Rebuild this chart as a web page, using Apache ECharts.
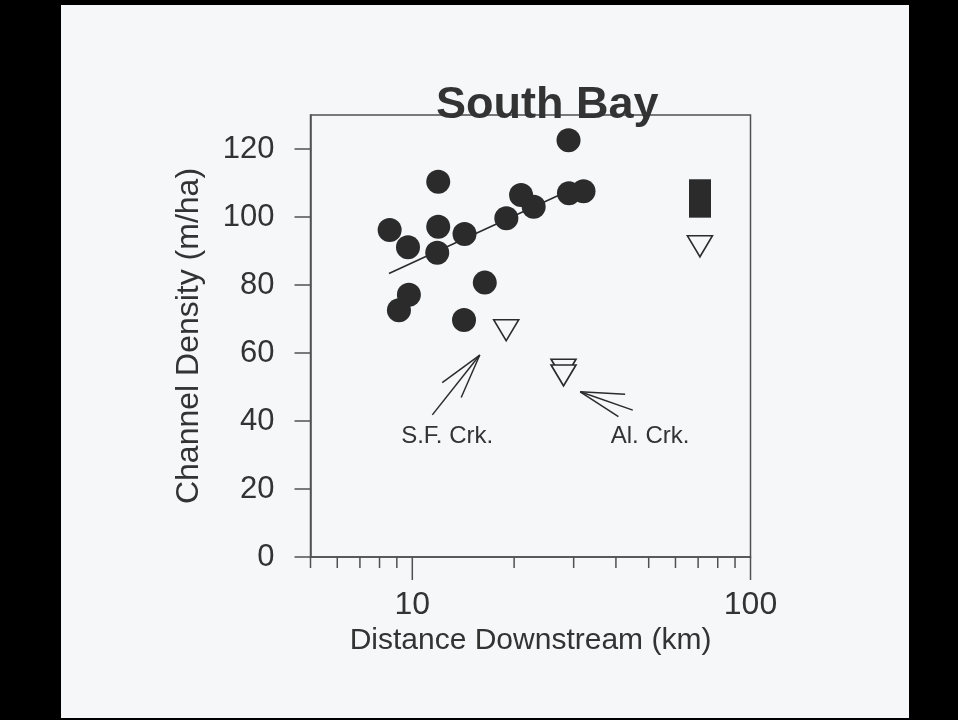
<!DOCTYPE html>
<html><head><meta charset="utf-8">
<script src="https://cdn.jsdelivr.net/npm/echarts@6/dist/echarts.min.js"></script>
<style>html,body{margin:0;padding:0;background:#000;width:958px;height:720px;overflow:hidden}
#c{position:absolute;left:61px;top:5px;width:848px;height:713px}</style></head>
<body><div id="c"></div>
<script>
const titleText = 'South Bay';
const xName = 'Distance Downstream (km)';
const yName = 'Channel Density (m/ha)';
const xMajorTicks = [10, 100];
const xMinorTicks = [5, 6, 7, 8, 9, 20, 30, 40, 50, 60, 70, 80, 90];
const yTicks = [0, 20, 40, 60, 80, 100, 120];

const channelDist    = [28.97, 11.93, 29.05, 32.08, 20.97, 22.85, 18.97, 8.57, 11.93, 14.27, 9.71, 11.85, 16.38, 9.77, 9.13, 14.22];
const channelDensity = [122.6, 110.4, 107.0, 107.6, 106.5, 103.0, 99.6, 96.2, 97.1, 95.0, 91.1, 89.5, 80.7, 77.1, 72.6, 69.7];

const openDist    = [18.95, 28.0, 28.0, 70.86];
const openDensity = [66.7, 55.1, 53.4, 91.4];

const rangeDist    = [70.9, 70.9];
const rangeDensity = [99.8, 111.1];

const fitDist    = [8.53, 30.3];
const fitDensity = [83.4, 108.6];

// arrow points: tip, shaft end, barb 1, barb 2
const sfArrowDist    = [15.83, 11.46, 12.26, 13.95];
const sfArrowDensity = [59.4, 41.8, 51.3, 46.9];
const alArrowDist    = [31.37, 44.87, 42.59, 40.69];
const alArrowDensity = [48.6, 43.2, 47.9, 41.3];

const annoText    = ['S.F. Crk.', 'Al. Crk.'];
const annoDist    = [12.68, 50.47];
const annoDensity = [35.6, 35.6];

const INK = '#2b2b2b';
const AXIS = '#505050';
const TEXT = '#333333';
const PAPER = '#f5f7f9';
const FONT = '"Liberation Sans", Arial, Helvetica, sans-serif';

function arrowSegs(xs, ys) {
  const segs = [];
  for (let i = 1; i < xs.length; i++) segs.push({coords: [[xs[0], ys[0]], [xs[i], ys[i]]]});
  return segs;
}

const chart = echarts.init(document.getElementById('c'), null, {renderer: 'canvas'});
chart.setOption({
  backgroundColor: PAPER,
  animation: false,
  title: {
    text: titleText, left: 370, top: 73,
    textStyle: {fontFamily: FONT, fontSize: 45, fontWeight: 'bold', color: TEXT}
  },
  grid: {left: 249.5, top: 110, width: 440, height: 442, show: true, borderColor: AXIS, borderWidth: 1.5, backgroundColor: 'transparent'},
  xAxis: {
    type: 'log', logBase: 10, min: 5, max: 100,
    name: xName, nameLocation: 'middle', nameGap: 58,
    nameTextStyle: {fontFamily: FONT, fontSize: 30, color: TEXT},
    axisLine: {show: true, lineStyle: {color: AXIS, width: 1.5}},
    axisTick: {show: false},
    splitLine: {show: false},
    axisLabel: {
      fontFamily: FONT, fontSize: 32, color: TEXT, margin: 32, showMaxLabel: true, showMinLabel: true,
      formatter: v => (xMajorTicks.some(t => Math.abs(t - v) < 1e-6 * t) ? String(Math.round(v)) : '')
    }
  },
  yAxis: {
    type: 'value', min: 0, max: 130, interval: 20,
    name: yName, nameLocation: 'middle', nameGap: 105,
    nameTextStyle: {fontFamily: FONT, fontSize: 32, color: TEXT},
    axisLine: {show: true, lineStyle: {color: AXIS, width: 1.5}},
    axisTick: {show: false},
    splitLine: {show: false},
    axisLabel: {
      fontFamily: FONT, fontSize: 31, color: TEXT, margin: 36, showMaxLabel: false,
      formatter: v => (yTicks.indexOf(v) >= 0 ? String(v) : '')
    }
  },
  series: [
    {
      type: 'scatter', name: 'xMinorTicks', silent: true, clip: false, z: 1,
      symbol: 'rect', symbolSize: [1.5, 11], symbolOffset: [0, 5.5],
      itemStyle: {color: AXIS, opacity: 1},
      data: xMinorTicks.map(v => [v, 0])
    },
    {
      type: 'scatter', name: 'xMajorTicks', silent: true, clip: false, z: 1,
      symbol: 'rect', symbolSize: [1.5, 23], symbolOffset: [0, 11.5],
      itemStyle: {color: AXIS, opacity: 1},
      data: xMajorTicks.map(v => [v, 0])
    },
    {
      type: 'scatter', name: 'yTicks', silent: true, clip: false, z: 1,
      symbol: 'rect', symbolSize: [16, 1.5], symbolOffset: [-8, 0],
      itemStyle: {color: AXIS, opacity: 1},
      data: yTicks.map(v => [5, v])
    },
    {
      type: 'lines', coordinateSystem: 'cartesian2d', silent: true, z: 2,
      lineStyle: {color: INK, width: 1.6, opacity: 1},
      data: [{coords: fitDist.map((x, i) => [x, fitDensity[i]])}]
    },
    {
      type: 'lines', coordinateSystem: 'cartesian2d', silent: true, z: 2,
      lineStyle: {color: INK, width: 22, opacity: 1, cap: 'butt'},
      data: [{coords: rangeDist.map((x, i) => [x, rangeDensity[i]])}]
    },
    {
      type: 'scatter', silent: true, z: 3,
      symbol: 'circle', symbolSize: 24,
      itemStyle: {color: INK, opacity: 1},
      data: channelDist.map((x, i) => [x, channelDensity[i]])
    },
    {
      type: 'scatter', silent: true, z: 3,
      symbol: 'triangle', symbolSize: [25, 21], symbolRotate: 180,
      itemStyle: {color: PAPER, borderColor: INK, borderWidth: 1.6, opacity: 1},
      data: openDist.map((x, i) => [x, openDensity[i]])
    },
    {
      type: 'lines', coordinateSystem: 'cartesian2d', silent: true, z: 2,
      lineStyle: {color: INK, width: 1.5, opacity: 1},
      data: arrowSegs(sfArrowDist, sfArrowDensity).concat(arrowSegs(alArrowDist, alArrowDensity))
    },
    {
      type: 'scatter', silent: true, z: 4, symbolSize: 0,
      itemStyle: {opacity: 1},
      label: {show: true, position: 'inside', formatter: p => p.name, fontFamily: FONT, fontSize: 24, color: TEXT, opacity: 1},
      data: annoText.map((t, i) => ({name: t, value: [annoDist[i], annoDensity[i]]}))
    }
  ]
});
</script></body></html>
